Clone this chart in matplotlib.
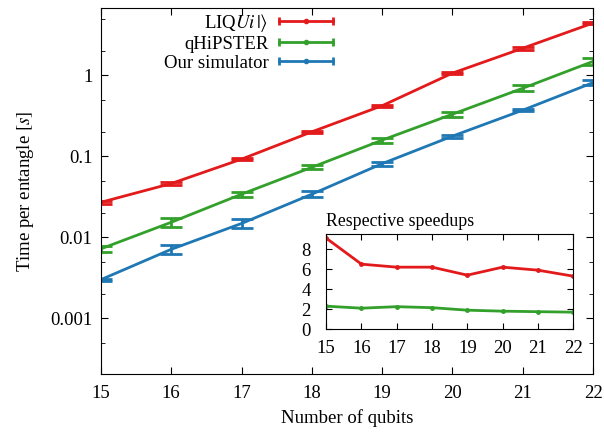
import matplotlib
matplotlib.use('Agg')
import matplotlib.pyplot as plt
from matplotlib.lines import Line2D
from matplotlib.legend_handler import HandlerBase
from matplotlib.ticker import LogLocator, FixedLocator, NullFormatter

plt.rcParams['font.family'] = ['Liberation Serif', 'DejaVu Serif']
plt.rcParams['mathtext.fontset'] = 'stix'
plt.rcParams['font.size'] = 13.5

qubits = [15, 16, 17, 18, 19, 20, 21, 22]

liqui = [0.027, 0.046, 0.092, 0.20, 0.42, 1.06, 2.15, 4.4]
liqui_err = [0.001, 0.002, 0.003, 0.007, 0.012, 0.03, 0.08, 0.12]
qhipster = [0.0072, 0.0153, 0.034, 0.073, 0.158, 0.33, 0.69, 1.48]
qhipster_err = [0.0007, 0.002, 0.0025, 0.004, 0.012, 0.025, 0.06, 0.15]
ours = [0.0030, 0.0071, 0.0148, 0.034, 0.081, 0.177, 0.37, 0.81]
ours_err = [0.0001, 0.0009, 0.0018, 0.003, 0.005, 0.008, 0.012, 0.06]

speedup_liqui = [9.1, 6.5, 6.2, 6.2, 5.4, 6.2, 5.9, 5.3]
speedup_qhipster = [2.3, 2.1, 2.25, 2.15, 1.9, 1.8, 1.75, 1.7]

red = '#e31a1c'
green = '#33a02c'
blue = '#1f78b4'


class KeySample(HandlerBase):
    # gnuplot-like key sample: line with end caps and a dot in the middle
    def create_artists(self, legend, orig, xd, yd, width, height, fontsize, trans):
        col = orig.get_color()
        y = height / 2 - yd
        x0, x1 = -xd, width - xd
        line = Line2D([x0, x1], [y, y], color=col, lw=2)
        caps = Line2D([x0, x1], [y, y], color=col, ls='none', marker='|',
                      ms=6, mew=2)
        dot = Line2D([(x0 + x1) / 2], [y], color=col, ls='none', marker='o', ms=3)
        for a in (line, caps, dot):
            a.set_transform(trans)
        return [line, caps, dot]


fig = plt.figure(figsize=(6.04, 4.32), dpi=100)
ax = fig.add_axes([0.167, 0.134, 0.815, 0.847])

handles = []
labels = []
for vals, err, col, lab in [
    (liqui, liqui_err, red, r'LIQ$Ui\,|\rangle$'),
    (qhipster, qhipster_err, green, 'qHiPSTER'),
    (ours, ours_err, blue, 'Our simulator'),
]:
    ax.errorbar(qubits, vals, yerr=err, color=col, lw=2, capsize=8,
                capthick=2, elinewidth=2)
    handles.append(Line2D([], [], color=col))
    labels.append(lab)

ax.set_yscale('log')
ax.set_xlim(15, 22)
ax.set_ylim(2.05e-4, 6.7)
ax.yaxis.set_major_locator(FixedLocator([0.001, 0.01, 0.1, 1]))
ax.yaxis.set_minor_locator(LogLocator(base=10, subs=(2, 5)))
ax.yaxis.set_minor_formatter(NullFormatter())
ax.set_yticklabels(['0.001', '0.01', '0.1', '1'])
ax.set_xticks(qubits)
ax.tick_params(which='both', direction='in', top=True, right=True)
ax.tick_params(which='major', length=5)
ax.tick_params(which='minor', length=3)
ax.tick_params(axis='x', pad=8)
ax.tick_params(axis='y', pad=6)
ax.set_xlabel('Number of qubits', labelpad=5)
ax.set_ylabel(r'Time per entangle $[s]$', labelpad=10)

leg = ax.legend(handles, labels, handler_map={Line2D: KeySample()},
                loc='upper right', bbox_to_anchor=(0.487, 1.01), frameon=False,
                borderaxespad=0, markerfirst=False, handlelength=2.9,
                labelspacing=0.1, handletextpad=0.55)

# inset
ins = fig.add_axes([0.540, 0.238, 0.409, 0.220])
ins.plot(qubits, speedup_liqui, color=red, lw=2, marker='o', ms=2.5)
ins.plot(qubits, speedup_qhipster, color=green, lw=2, marker='o', ms=2.5)
ins.set_xlim(15, 22)
ins.set_ylim(0, 9.5)
ins.set_xticks(qubits)
ins.set_yticks([0, 2, 4, 6, 8])
ins.tick_params(direction='in', top=True, right=True, length=4)
ins.tick_params(axis='x', pad=8)
ins.tick_params(axis='y', pad=11)
ins.set_title('Respective speedups', loc='left', pad=6, fontsize=12.8)

fig.savefig('out.png', dpi=100)
